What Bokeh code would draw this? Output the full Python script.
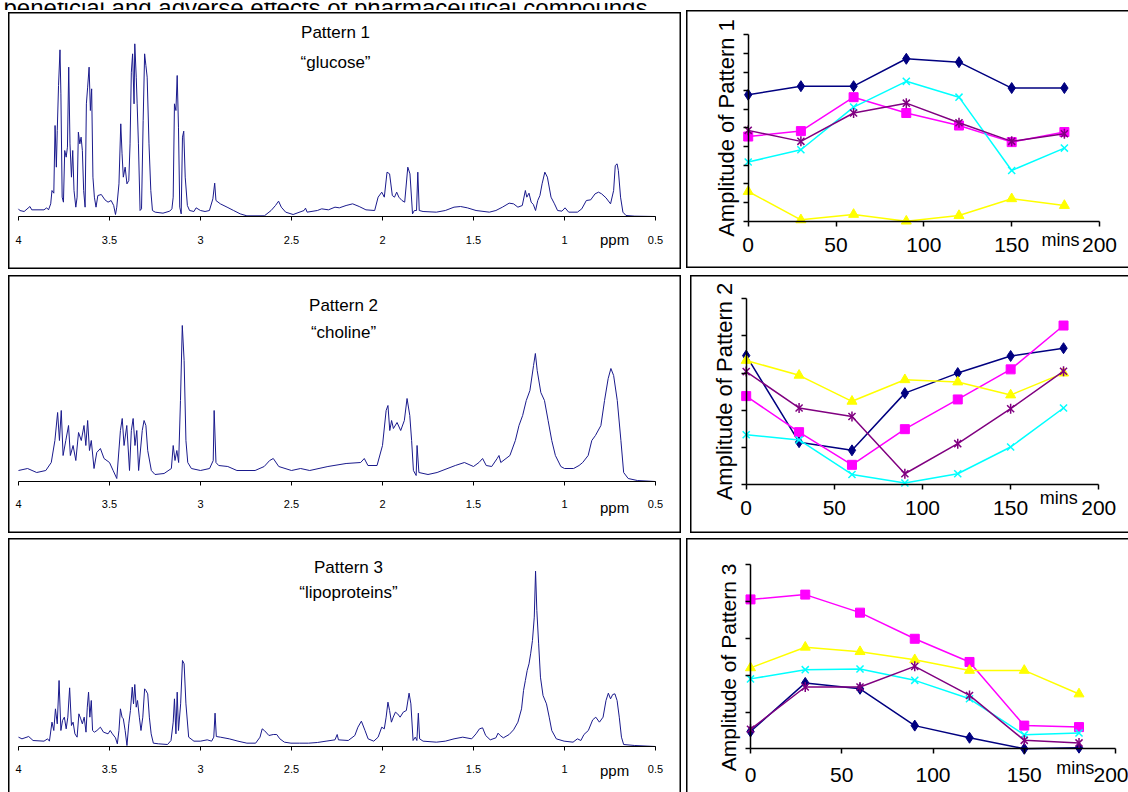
import numpy as np
from bokeh.plotting import figure
from bokeh.layouts import column, row
from bokeh.models import Range1d, FixedTicker, Label, CustomJSTickFormatter
from bokeh.embed import file_html
from bokeh.resources import INLINE

FONT = "Liberation Sans"
NAVY = "#000080"
MAGENTA = "#FF00FF"
YELLOW = "#FFFF00"
CYAN = "#00FFFF"
PURPLE = "#800080"
SPEC = "#1a1a8c"

caption = "beneficial and adverse effects of pharmaceutical compounds."

# ---------------- spectra (ppm, intensity a.u.) ----------------
ppm_ticks = [4, 3.5, 3, 2.5, 2, 1.5, 1, 0.5]

spec1_ppm = [4.000, 3.993, 3.969, 3.937, 3.927, 3.860, 3.845, 3.835, 3.823, 3.816, 3.806, 3.799, 3.792, 3.787,
             3.780, 3.772, 3.767, 3.760, 3.753, 3.746, 3.738, 3.731, 3.724, 3.717, 3.709, 3.702, 3.695, 3.685,
             3.678, 3.671, 3.663, 3.656, 3.649, 3.642, 3.634, 3.627, 3.620, 3.612, 3.605, 3.598, 3.591, 3.583,
             3.574, 3.564, 3.545, 3.525, 3.508, 3.491, 3.477, 3.467, 3.460, 3.448, 3.438, 3.431, 3.424, 3.414,
             3.404, 3.394, 3.387, 3.380, 3.373, 3.365, 3.361, 3.353, 3.348, 3.341, 3.332, 3.324, 3.315, 3.307,
             3.300, 3.293, 3.283, 3.273, 3.264, 3.249, 3.206, 3.169, 3.157, 3.150, 3.143, 3.135, 3.128, 3.121,
             3.114, 3.106, 3.099, 3.092, 3.084, 3.072, 3.060, 3.036, 3.024, 3.000, 2.975, 2.951, 2.932, 2.922,
             2.915, 2.891, 2.854, 2.818, 2.782, 2.745, 2.649, 2.612, 2.588, 2.571, 2.556, 2.532, 2.491, 2.431,
             2.423, 2.414, 2.358, 2.334, 2.297, 2.261, 2.237, 2.200, 2.164, 2.128, 2.091, 2.043, 2.024, 2.004,
             1.990, 1.975, 1.961, 1.946, 1.934, 1.922, 1.910, 1.893, 1.878, 1.861, 1.849, 1.835, 1.825, 1.813,
             1.806, 1.798, 1.777, 1.704, 1.655, 1.607, 1.571, 1.534, 1.486, 1.413, 1.377, 1.341, 1.304, 1.280,
             1.256, 1.232, 1.215, 1.207, 1.195, 1.183, 1.171, 1.159, 1.147, 1.135, 1.123, 1.108, 1.094, 1.074,
             1.055, 1.038, 1.014, 0.997, 0.977, 0.929, 0.905, 0.880, 0.856, 0.832, 0.813, 0.796, 0.772, 0.747,
             0.730, 0.721, 0.711, 0.704, 0.692, 0.679, 0.662, 0.614, 0.500]
spec1_int = [23, 18, 15, 30, 20, 20, 26, 20, 38, 78, 70, 273, 148, 258,
             393, 500, 368, 58, 43, 198, 178, 208, 448, 218, 118, 198, 78, 28,
             58, 253, 218, 238, 198, 78, 28, 338, 388, 448, 318, 383, 118, 58,
             28, 63, 66, 50, 43, 48, 33, 6, 28, 98, 278, 188, 118, 148,
             98, 108, 218, 433, 488, 338, 518, 418, 338, 218, 18, 23, 288, 488,
             453, 418, 218, 78, 18, 13, 10, 16, 23, 58, 338, 318, 423, 268,
             28, 8, 238, 256, 118, 33, 18, 15, 26, 18, 15, 18, 53, 100,
             48, 38, 28, 18, 8, 2, 2, 18, 33, 46, 28, 13, 6, 18,
             25, 13, 18, 23, 20, 28, 26, 33, 38, 30, 20, 18, 58, 73,
             58, 133, 128, 63, 58, 73, 58, 48, 43, 148, 128, 8, 18, 18,
             133, 18, 15, 13, 18, 28, 30, 26, 18, 13, 18, 28, 40, 38,
             28, 33, 78, 58, 70, 43, 36, 18, 48, 63, 98, 133, 118, 58,
             38, 18, 16, 26, 13, 13, 23, 48, 50, 68, 73, 68, 56, 38,
             78, 153, 158, 138, 58, 13, 3, 1, 0]

spec2_ppm = [4.00, 3.95, 3.90, 3.85, 3.82, 3.80, 3.785, 3.775, 3.765, 3.755, 3.74, 3.725, 3.715, 3.70,
             3.685, 3.67, 3.655, 3.64, 3.63, 3.62, 3.61, 3.60, 3.585, 3.57, 3.55, 3.53, 3.50, 3.48,
             3.46, 3.44, 3.43, 3.42, 3.405, 3.39, 3.38, 3.37, 3.36, 3.35, 3.34, 3.32, 3.31, 3.30,
             3.29, 3.27, 3.25, 3.20, 3.16, 3.15, 3.14, 3.13, 3.12, 3.11, 3.10, 3.09, 3.08, 3.07,
             3.05, 3.00, 2.95, 2.93, 2.925, 2.915, 2.90, 2.85, 2.80, 2.70, 2.65, 2.62, 2.60, 2.57,
             2.50, 2.45, 2.40, 2.30, 2.20, 2.12, 2.10, 2.08, 2.03, 2.00, 1.98, 1.97, 1.96, 1.95,
             1.94, 1.92, 1.90, 1.88, 1.865, 1.85, 1.84, 1.83, 1.815, 1.81, 1.80, 1.75, 1.70, 1.60,
             1.55, 1.50, 1.47, 1.45, 1.43, 1.40, 1.37, 1.36, 1.35, 1.30, 1.27, 1.25, 1.23, 1.21,
             1.19, 1.17, 1.16, 1.15, 1.13, 1.11, 1.09, 1.07, 1.05, 1.02, 1.00, 0.95, 0.92, 0.90,
             0.87, 0.85, 0.83, 0.80, 0.78, 0.76, 0.745, 0.73, 0.71, 0.69, 0.675, 0.65, 0.60, 0.50]
spec2_int = [11, 13, 9, 11, 19, 41, 69, 41, 71, 26, 41, 56, 26, 36,
             21, 49, 41, 56, 36, 61, 31, 41, 13, 29, 33, 23, 19, 11,
             3, 51, 63, 36, 56, 11, 51, 63, 36, 51, 11, 51, 61, 56,
             31, 11, 7, 8, 13, 36, 21, 31, 19, 81, 156, 121, 41, 19,
             13, 11, 13, 21, 71, 19, 16, 15, 11, 11, 15, 21, 23, 15,
             11, 13, 11, 15, 18, 19, 23, 16, 16, 36, 71, 76, 51, 61,
             53, 59, 51, 61, 83, 66, 41, 11, 6, 36, 9, 7, 9, 16,
             19, 15, 19, 23, 16, 15, 23, 26, 19, 26, 41, 56, 66, 81,
             91, 116, 128, 111, 89, 81, 61, 41, 26, 15, 13, 13, 16, 19,
             26, 41, 46, 56, 81, 103, 113, 106, 81, 41, 9, 3, 1, 0]

spec3_ppm = [4.000, 3.981, 3.944, 3.920, 3.860, 3.840, 3.830, 3.816, 3.806, 3.797, 3.787, 3.777, 3.767, 3.758,
             3.748, 3.738, 3.729, 3.719, 3.709, 3.700, 3.690, 3.678, 3.668, 3.658, 3.649, 3.639, 3.629, 3.622,
             3.615, 3.608, 3.600, 3.593, 3.583, 3.569, 3.550, 3.533, 3.508, 3.496, 3.484, 3.467, 3.457, 3.448,
             3.440, 3.431, 3.424, 3.414, 3.404, 3.394, 3.385, 3.375, 3.368, 3.361, 3.353, 3.346, 3.336, 3.327,
             3.317, 3.307, 3.300, 3.290, 3.281, 3.271, 3.259, 3.230, 3.181, 3.162, 3.150, 3.143, 3.135, 3.128,
             3.121, 3.109, 3.099, 3.090, 3.080, 3.065, 3.036, 3.000, 2.963, 2.939, 2.927, 2.920, 2.913, 2.891,
             2.842, 2.794, 2.745, 2.697, 2.673, 2.661, 2.649, 2.624, 2.600, 2.581, 2.564, 2.539, 2.503, 2.455,
             2.406, 2.358, 2.310, 2.261, 2.249, 2.242, 2.188, 2.152, 2.135, 2.116, 2.096, 2.079, 2.048, 2.024,
             2.004, 1.990, 1.980, 1.970, 1.961, 1.951, 1.941, 1.929, 1.917, 1.903, 1.886, 1.869, 1.854, 1.844,
             1.832, 1.820, 1.811, 1.803, 1.796, 1.777, 1.704, 1.655, 1.607, 1.559, 1.510, 1.486, 1.467, 1.450,
             1.433, 1.408, 1.377, 1.365, 1.353, 1.336, 1.304, 1.280, 1.256, 1.236, 1.225, 1.215, 1.205, 1.195,
             1.186, 1.176, 1.166, 1.159, 1.152, 1.142, 1.132, 1.118, 1.099, 1.084, 1.070, 1.045, 1.002, 0.953,
             0.929, 0.910, 0.893, 0.869, 0.845, 0.828, 0.808, 0.788, 0.772, 0.759, 0.747, 0.735, 0.723, 0.711,
             0.699, 0.687, 0.675, 0.614, 0.500]
spec3_int = [28, 23, 30, 18, 16, 23, 16, 73, 48, 113, 68, 198, 48, 78,
             88, 53, 88, 176, 63, 73, 38, 28, 98, 83, 68, 88, 43, 118,
             163, 88, 138, 48, 43, 48, 58, 43, 38, 48, 38, 26, 8, 48,
             113, 88, 83, 48, 3, 68, 108, 178, 128, 186, 118, 138, 88, 48,
             88, 173, 168, 158, 88, 38, 10, 8, 6, 18, 73, 143, 38, 163,
             48, 128, 258, 248, 128, 28, 16, 16, 20, 16, 28, 100, 30, 28,
             23, 16, 10, 10, 28, 53, 48, 33, 36, 36, 23, 13, 10, 10,
             10, 12, 16, 20, 36, 20, 18, 33, 58, 76, 48, 23, 16, 28,
             58, 53, 88, 133, 108, 73, 88, 103, 98, 88, 103, 108, 160, 128,
             18, 28, 18, 100, 23, 16, 13, 16, 23, 28, 23, 38, 53, 56,
             33, 20, 26, 40, 33, 26, 36, 50, 73, 113, 168, 198, 228, 248,
             278, 318, 388, 526, 408, 308, 208, 153, 128, 88, 48, 23, 16, 13,
             23, 18, 36, 48, 80, 88, 73, 88, 138, 160, 143, 156, 158, 138,
             88, 28, 6, 3, 0]

# ---------------- time courses ----------------
mins = [0, 30, 60, 90, 120, 150, 180]
mins_ticks = [0, 50, 100, 150, 200]

navy1 = [6.78, 7.24, 7.24, 8.71, 8.53, 7.14, 7.14]
magenta1 = [4.54, 4.83, 6.65, 5.80, 5.13, 4.24, 4.78]
yellow1 = [1.59, 0.07, 0.36, 0.00, 0.30, 1.20, 0.84]
cyan1 = [3.17, 3.83, 6.12, 7.50, 6.65, 2.72, 3.92]
purple1 = [4.87, 4.28, 5.80, 6.33, 5.28, 4.28, 4.69]

navy2 = [3.47, 1.14, 0.92, 2.46, 3.00, 3.46, 3.67]
magenta2 = [2.38, 1.41, 0.53, 1.49, 2.29, 3.10, 4.28]
yellow2 = [3.34, 2.94, 2.24, 2.82, 2.76, 2.41, 3.00]
cyan2 = [1.34, 1.20, 0.27, 0.04, 0.29, 1.01, 2.06]
purple2 = [3.04, 2.06, 1.83, 0.29, 1.10, 2.04, 3.05]

navy3 = [0.47, 1.79, 1.63, 0.63, 0.30, 0.00, 0.03]
magenta3 = [4.06, 4.19, 3.70, 2.99, 2.36, 0.63, 0.59]
yellow3 = [2.20, 2.76, 2.64, 2.42, 2.13, 2.13, 1.49]
cyan3 = [1.90, 2.15, 2.17, 1.86, 1.36, 0.38, 0.43]
purple3 = [0.53, 1.68, 1.68, 2.24, 1.45, 0.23, 0.16]


def box(sides, w=1.5):
    parts = []
    if "l" in sides:
        parts.append(f"inset {w}px 0 0 0 #000")
    if "t" in sides:
        parts.append(f"inset 0 {w}px 0 0 #000")
    if "r" in sides:
        parts.append(f"inset -{w}px 0 0 0 #000")
    if "b" in sides:
        parts.append(f"inset 0 -{w}px 0 0 #000")
    return {"box-shadow": ", ".join(parts)} if parts else {}


def base_fig(width, height, xr, yr, margin, sides):
    p = figure(width=width, height=height, x_range=Range1d(*xr), y_range=Range1d(*yr),
               output_backend="svg", toolbar_location=None,
               min_border_left=0, min_border_right=0, min_border_top=0, min_border_bottom=0,
               margin=margin, styles=box(sides), border_fill_alpha=0,
               background_fill_alpha=0, outline_line_color=None)
    p.grid.visible = False
    return p


def style_axis(a, tick_out, font_size, standoff, lw):
    a.axis_line_color = "black"
    a.axis_line_width = lw
    a.major_tick_line_color = "black"
    a.major_tick_line_width = lw
    a.major_tick_out = tick_out
    a.major_tick_in = 0
    a.minor_tick_out = 0
    a.minor_tick_in = 0
    a.major_label_text_font = FONT
    a.major_label_text_font_size = font_size
    a.major_label_text_color = "black"
    a.major_label_standoff = standoff


def spectrum(ppm, inten, yr, height, t1, t2, tx, ty1, ty2, ppm_y, standoff, margin, sides):
    p = base_fig(673, height, (4.0549, 0.3571), yr, margin, sides)
    p.yaxis.visible = False
    p.line(ppm, inten, color=SPEC, line_width=1)
    ax = p.xaxis[0]
    ax.fixed_location = 0
    ax.bounds = (0.5, 4)
    ax.ticker = FixedTicker(ticks=ppm_ticks)
    ax.formatter = CustomJSTickFormatter(code="return tick.toString()")
    style_axis(ax, 4, "11px", standoff, 1)
    for txt, yy in ((t1, ty1), (t2, ty2)):
        p.add_layout(Label(x=tx, y=yy, text=txt, text_align="center", text_baseline="middle",
                           text_font=FONT, text_font_size="17px", text_color="black"))
    p.add_layout(Label(x=0.725, y=ppm_y, text="ppm", text_align="center", text_baseline="middle",
                       text_font=FONT, text_font_size="15px", text_color="black"))
    return p


def timecourse(series, ymax, ylabel, width, height, xr, yr, mins_xy, standoff, margin, sides,
               ylabel_at=None, ylabel_size="22px"):
    p = base_fig(width, height, xr, yr, margin, sides)
    xa = p.xaxis[0]
    ya = p.yaxis[0]
    xa.fixed_location = 0
    ya.fixed_location = 0
    xa.bounds = (0, 200)
    ya.bounds = (0, ymax)
    xa.ticker = FixedTicker(ticks=mins_ticks)
    ya.ticker = FixedTicker(ticks=list(range(ymax + 1)))
    ya.formatter = CustomJSTickFormatter(code="return ''")
    style_axis(xa, 5, "21px", standoff, 1.5)
    style_axis(ya, 5, "1px", 0, 1.5)
    if ylabel_at is None:
        ya.axis_label = ylabel
        ya.axis_label_text_font = FONT
        ya.axis_label_text_font_size = ylabel_size
        ya.axis_label_text_font_style = "normal"
        ya.axis_label_text_color = "black"
        ya.axis_label_standoff = 5
    else:
        p.add_layout(Label(x=ylabel_at[0], y=ylabel_at[1], text=ylabel, angle=np.pi / 2,
                           text_align="center", text_baseline="middle",
                           text_font=FONT, text_font_size=ylabel_size, text_color="black"))

    navy, magenta, yellow, cyan, purple = series
    p.line(mins, navy, color=NAVY, line_width=1.5)
    p.scatter(mins, navy, marker="diamond", size=11, color=NAVY)
    p.line(mins, magenta, color=MAGENTA, line_width=1.5)
    p.scatter(mins, magenta, marker="square", size=9, color=MAGENTA)
    p.line(mins, yellow, color=YELLOW, line_width=1.5)
    p.scatter(mins, yellow, marker="triangle", size=10, color=YELLOW)
    p.line(mins, cyan, color=CYAN, line_width=1.5)
    p.scatter(mins, cyan, marker="x", size=10, line_color=CYAN, line_width=1.5)
    p.line(mins, purple, color=PURPLE, line_width=1.5)
    p.scatter(mins, purple, marker="x", size=10, line_color=PURPLE, line_width=1.5)
    p.scatter(mins, purple, marker="dash", size=10, angle=np.pi / 2, line_color=PURPLE, line_width=1.5)

    p.add_layout(Label(x=mins_xy[0], y=mins_xy[1], text="mins", text_align="center", text_baseline="middle",
                       text_font=FONT, text_font_size="18px", text_color="black"))
    return p


# caption strip (only its lower part is inside the page, as in the source)
cap = base_fig(1128, 10, (0, 1128), (0, 10), (0, 0, 0, 0), "")
cap.xaxis.visible = False
cap.yaxis.visible = False
cap.add_layout(Label(x=3, y=5, text=caption, text_align="left", text_baseline="alphabetic",
                     text_font=FONT, text_font_size="24px", text_color="black"))

s1 = spectrum(spec1_ppm, spec1_int, (-159, 612), 257, "Pattern 1", "\u201cglucose\u201d", 2.258, 552, 462,
              -69, 15, (2, 0, 0, 8), "ltrb")
t1 = timecourse((navy1, magenta1, yellow1, cyan1, purple1), 10, "Amplitude of Pattern 1",
                442, 258, (-35.13, 216.5), (-2.54, 11.30), (177.8, -1.035), 12,
                (0, 0, 0, 5), "ltb")

s2 = spectrum(spec2_ppm, spec2_int, (-52, 206), 258, "Pattern 2", "\u201ccholine\u201d", 2.214, 176, 149,
              -26, 14, (6, 0, 0, 8), "ltrb")
t2 = timecourse((navy2, magenta2, yellow2, cyan2, purple2), 5, "Amplitude of Pattern 2",
                438, 258, (-31.59, 216.85), (-1.319, 5.627), (177.3, -0.35), 11,
                (6, 0, 0, 9), "ltb")

s3 = spectrum(spec3_ppm, spec3_int, (-138, 624), 254, "Pattern 3", "\u201clipoproteins\u201d", 2.187, 537, 462,
              -72, 14, (5, 0, 0, 8), "ltr")
t3 = timecourse((navy3, magenta3, yellow3, cyan3, purple3), 5, "Amplitude of Pattern 3",
                442, 254, (-35.07, 207.12), (-1.1875, 5.715), (178.0, -0.51), 14,
                (5, 0, 0, 5), "lt", ylabel_at=(-12.05, 2.21), ylabel_size="21px")

layout = column(cap, row(s1, t1), row(s2, t2), row(s3, t3))

open("out.html", "w").write(file_html(layout, INLINE))
